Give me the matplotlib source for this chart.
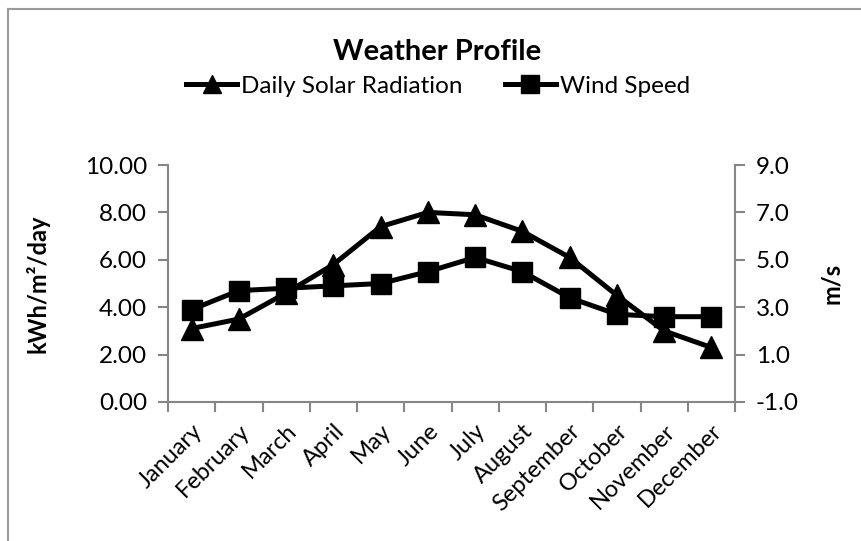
import matplotlib
matplotlib.use("Agg")
import matplotlib.pyplot as plt
from matplotlib.lines import Line2D
from matplotlib.ticker import FormatStrFormatter, FixedLocator

plt.rcParams['font.family'] = ['Lato', 'DejaVu Sans']

months = ["January", "February", "March", "April", "May", "June", "July",
          "August", "September", "October", "November", "December"]
solar = [3.1, 3.5, 4.6, 5.8, 7.4, 8.0, 7.9, 7.2, 6.1, 4.5, 3.0, 2.3]
wind = [2.9, 3.7, 3.8, 3.9, 4.0, 4.5, 5.1, 4.5, 3.4, 2.7, 2.6, 2.6]

GRAY = "#868686"
W, H = 862, 541

fig = plt.figure(figsize=(W / 100, H / 100), dpi=100)
# chart-area frame (only left and top edges fall inside the picture)
fx, fy = 8.5 / W, 1 - 8.5 / H
fig.add_artist(Line2D([fx, fx], [0, fy], transform=fig.transFigure,
                      color="#9a9a9a", linewidth=1.5))
fig.add_artist(Line2D([fx, 1], [fy, fy], transform=fig.transFigure,
                      color="#9a9a9a", linewidth=1.5))

ax = fig.add_axes([168 / W, 1 - 402 / H, (735 - 168) / W, (402 - 165) / H])
ax2 = ax.twinx()

x = list(range(len(months)))
l1, = ax.plot(x, solar, color="black", linewidth=3.6, marker="^",
              markersize=16, label="Daily Solar Radiation", clip_on=False)
l2, = ax2.plot(x, wind, color="black", linewidth=3.6, marker="s",
               markersize=14.5, label="Wind Speed", clip_on=False)

ax.set_xlim(-0.5, 11.5)
ax.set_ylim(0, 10)
ax2.set_ylim(-1, 9)
ax.set_yticks([0, 2, 4, 6, 8, 10])
ax2.set_yticks([-1, 1, 3, 5, 7, 9])
ax.yaxis.set_major_formatter(FormatStrFormatter("%.2f"))
ax2.yaxis.set_major_formatter(FormatStrFormatter("%.1f"))

# category boundaries as ticks, labels at centres
ax.xaxis.set_major_locator(FixedLocator([i - 0.5 for i in range(13)]))
ax.set_xticklabels([])
ax.xaxis.set_minor_locator(FixedLocator(x))
ax.set_xticklabels(months, minor=True, rotation=45, ha="right",
                   rotation_mode="anchor")
ax.tick_params(axis="x", which="minor", length=0, pad=13, labelsize=17)
ax.tick_params(axis="x", which="major", length=7, width=1.5, color=GRAY)
ax.tick_params(axis="y", length=7, width=1.5, color=GRAY, labelsize=17.5, pad=8)
ax2.tick_params(axis="y", length=7, width=1.5, color=GRAY, labelsize=17.5, pad=8)

for a in (ax, ax2):
    a.spines["top"].set_visible(False)
    for s in ("left", "right", "bottom"):
        a.spines[s].set_color(GRAY)
        a.spines[s].set_linewidth(1.5)
ax.spines["right"].set_visible(False)
ax2.spines["left"].set_visible(False)
ax2.spines["bottom"].set_visible(False)

ax.set_ylabel("kWh/m²/day", fontsize=17, fontweight="bold")
ax.yaxis.set_label_coords((50 - 168) / 567, 0.5)
ax2.set_ylabel("m/s", fontsize=17, fontweight="bold")
ax2.yaxis.set_label_coords((820 - 168) / 567, 0.5)

fig.text(437 / W, 1 - 52 / H, "Weather Profile", ha="center", va="center",
         fontsize=21, fontweight="bold")
fig.legend(handles=[l1, l2], loc="center", bbox_to_anchor=(438 / W, 1 - 86 / H),
           ncol=2, frameon=False, fontsize=17.5, handlelength=2.1,
           columnspacing=1.75, handletextpad=0.15, markerscale=0.85)

fig.savefig("out.png", dpi=100)
